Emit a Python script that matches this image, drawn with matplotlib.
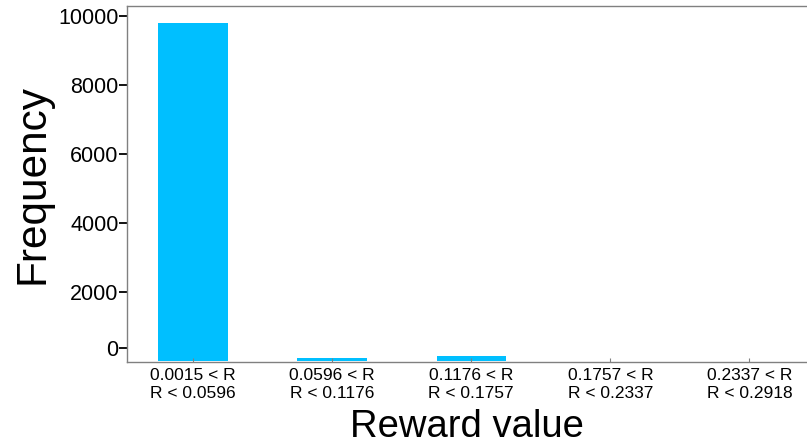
"""Reward value histogram: frequency per reward bin."""
import matplotlib
matplotlib.use("Agg")
import matplotlib.pyplot as plt

bins = ["0.0015 < R\nR < 0.0596", "0.0596 < R\nR < 0.1176", "0.1176 < R\nR < 0.1757",
        "0.1757 < R\nR < 0.2337", "0.2337 < R\nR < 0.2918"]
freq = [9780, 85, 160, 15, 10]
ytick_vals = [0, 2000, 4000, 6000, 8000, 10000]
ytick_labels = ["0", "2000", "4000", "6000", "8000", "10000"]
zero_offset = 374        # zero tick drawn slightly above the floor (Prism-style)

plt.rcParams["font.family"] = ["Liberation Sans", "DejaVu Sans"]

fig = plt.figure(figsize=(8.07, 4.48), dpi=100)
ax = fig.add_axes([0.1574, 0.192, 0.842, 0.7946])

x = range(len(bins))
ax.bar(x, freq, width=0.5, color="#00BFFF", edgecolor="none")

ax.set_xlim(-0.475, 4.41)
ax.set_ylim(-20, 10280)

ax.set_xticks(list(x))
ax.set_xticklabels(bins, fontsize=12.5, linespacing=1.3)
ax.set_yticks([zero_offset if v == 0 else v for v in ytick_vals])
ax.set_yticklabels(ytick_labels, fontsize=15.5)

ax.tick_params(axis="x", direction="in", length=3, width=0.8, color="#808080", pad=4)
ax.tick_params(axis="y", direction="out", length=6, width=1.3, color="black", pad=0)

for side in ("left", "bottom", "top"):
    ax.spines[side].set_color("#808080")
    ax.spines[side].set_linewidth(1.0)
ax.spines["right"].set_visible(False)

ax.set_xlabel("Reward value", fontsize=27.5, labelpad=6)
ax.set_ylabel("Frequency", fontsize=30.5, labelpad=4)

fig.savefig("out.png", dpi=100)
